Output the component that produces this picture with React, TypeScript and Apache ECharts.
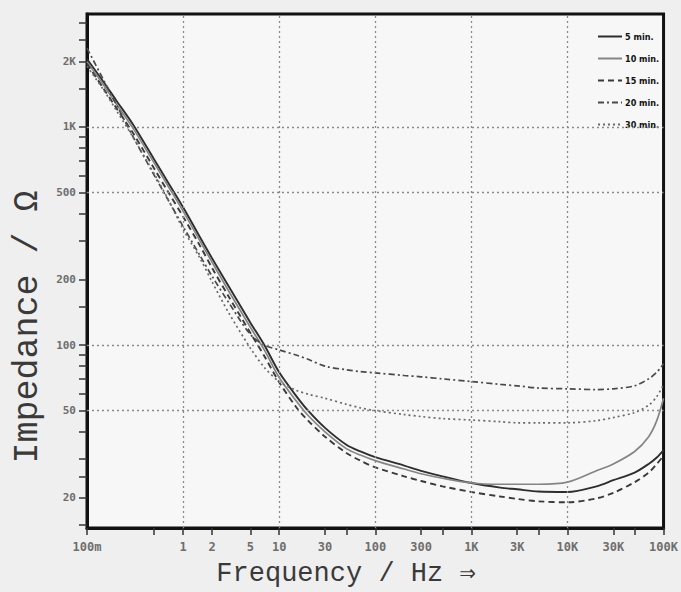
import React, { useEffect, useRef } from "react";
import * as echarts from "echarts";

// Frequencies (Hz) shared by all curves
const freq = [0.1, 0.15, 0.2, 0.3, 0.5, 0.7, 1, 1.5, 2, 3, 5, 7, 10, 15, 20, 30, 50, 70, 100, 200, 300, 500, 1000, 2000, 3000, 5000, 10000, 20000, 30000, 50000, 70000, 85000, 100000];

// Impedance (Ohm) per immersion time
const z5 = [2050, 1600, 1330, 1030, 710, 555, 428, 312, 250, 185, 127, 100, 75, 58.5, 50, 41.7, 34.9, 32.5, 30.6, 28, 26.5, 25, 23.3, 22.2, 21.8, 21.3, 21.2, 22.5, 24, 26, 28.5, 30.5, 33];
const z10 = [1990, 1550, 1285, 990, 684, 535, 411, 300, 240, 176, 121, 95, 71, 55.5, 47.5, 40, 33.5, 31.3, 29.5, 27, 25.7, 24.5, 23.3, 23, 23, 23, 23.5, 26.5, 28.5, 32.5, 38, 45, 57];
const z15 = [1950, 1490, 1230, 940, 645, 503, 388, 285, 226, 166, 114, 89, 67.5, 52, 45, 38, 32, 29.5, 27.5, 25, 23.8, 22.5, 21.2, 20.2, 19.7, 19.2, 19.0, 19.8, 21, 23.5, 26, 28.5, 31];
const z20 = [2300, 1630, 1277, 905, 601, 462, 350, 257, 207, 156, 112, 100, 95, 90, 86, 80, 77, 75.5, 74.5, 72.5, 71.5, 70, 68, 66, 65, 63.5, 63, 62.5, 63, 65, 70, 75, 82];
const z30 = [1900, 1470, 1200, 900, 610, 465, 340, 250, 195, 140, 97, 79, 68, 62, 59.5, 57, 53.5, 51.5, 50, 48, 47, 46, 45.3, 44.5, 44, 44, 44, 45, 46.5, 49, 53, 58, 66];

const seriesNames = ["5 min.", "10 min.", "15 min.", "20 min.", "30 min."];

// Axis ticks and labels
const xTickValues = [0.1, 0.5, 1, 2, 5, 10, 30, 50, 100, 300, 500, 1000, 3000, 5000, 10000, 30000, 50000, 100000];
const xLabelValues = [0.1, 1, 2, 5, 10, 30, 100, 300, 1000, 3000, 10000, 30000, 100000];
const xLabelTexts = ["100m", "1", "2", "5", "10", "30", "100", "300", "1K", "3K", "10K", "30K", "100K"];
const yTickValues = [15, 20, 25, 30, 40, 50, 60, 70, 80, 90, 100, 150, 200, 300, 400, 500, 600, 700, 800, 900, 1000, 1500, 2000, 2500, 3000];
const yLabelValues = [20, 50, 100, 200, 500, 1000, 2000];
const yLabelTexts = ["20", "50", "100", "200", "500", "1K", "2K"];
const xGridValues = [1, 10, 100, 1000, 10000];
const yGridValues = [50, 100, 500, 1000];

const L = (v: number) => Math.log10(v);

function labelFor(v: number, vals: number[], texts: string[]) {
  for (let i = 0; i < vals.length; i++) {
    if (Math.abs(L(vals[i]) - v) < 1e-6) return texts[i];
  }
  return "";
}

export default function App() {
  const ref = useRef<HTMLDivElement>(null);
  useEffect(() => {
    if (!ref.current) return;
    const chart = echarts.init(ref.current, undefined, { renderer: "svg" });
    const toData = (z: number[]) => freq.map((f, i) => [L(f), L(z[i])]);
    const gridStyle = { color: "#8a8a8a", width: 1.3, type: [2, 3] as any };
    const styles = [
      { color: "#2e2e2e", width: 1.9, type: "solid" as any },
      { color: "#858585", width: 1.7, type: "solid" as any },
      { color: "#3a3a3a", width: 1.9, type: [6, 4] as any },
      { color: "#4a4a4a", width: 1.7, type: [6, 3, 2, 3] as any },
      { color: "#6a6a6a", width: 1.7, type: [2, 3] as any },
    ];
    const zs = [z5, z10, z15, z20, z30];
    const monoLabel = {
      fontFamily: "DejaVu Sans Mono, monospace",
      fontWeight: "bold" as any,
      color: "#6e6e6e",
    };
    chart.setOption({
      animation: false,
      backgroundColor: "#efefef",
      grid: {
        left: 87,
        right: 11,
        top: 14,
        bottom: 64,
        show: true,
        backgroundColor: "#f7f7f7",
        borderColor: "#111",
        borderWidth: 3,
      },
      legend: {
        data: seriesNames,
        orient: "vertical",
        left: 592,
        top: 27,
        itemWidth: 24,
        itemHeight: 10,
        itemGap: 13,
        itemStyle: { opacity: 0 },
        textStyle: {
          fontFamily: "DejaVu Sans Condensed, Liberation Sans Narrow, sans-serif",
          fontWeight: "bold",
          fontSize: 9,
          color: "#111",
          padding: [0, 0, 0, -2],
        },
      },
      xAxis: {
        type: "value",
        min: -1,
        max: 5,
        axisLine: { show: true, onZero: false, lineStyle: { color: "#111", width: 3 } },
        axisTick: {
          show: true,
          length: 7,
          customValues: xTickValues.map(L),
          lineStyle: { color: "#333", width: 1.5 },
        },
        axisLabel: {
          ...monoLabel,
          fontSize: 12,
          margin: 13,
          customValues: xLabelValues.map(L),
          formatter: (v: number) => labelFor(v, xLabelValues, xLabelTexts),
        },
        splitLine: { show: false },
      },
      yAxis: {
        type: "value",
        min: 1.161,
        max: 3.518,
        axisLine: { show: true, onZero: false, lineStyle: { color: "#111", width: 3 } },
        axisTick: {
          show: true,
          length: 8,
          customValues: yTickValues.map(L),
          lineStyle: { color: "#333", width: 1.5 },
        },
        axisLabel: {
          ...monoLabel,
          fontSize: 11,
          margin: 11,
          customValues: yLabelValues.map(L),
          formatter: (v: number) => labelFor(v, yLabelValues, yLabelTexts),
        },
        splitLine: { show: false },
      },
      series: [
        {
          type: "line",
          name: "grid",
          data: [],
          silent: true,
          markLine: {
            silent: true,
            symbol: "none",
            label: { show: false },
            lineStyle: gridStyle,
            data: [
              ...xGridValues.map((v) => ({ xAxis: L(v) })),
              ...yGridValues.map((v) => ({ yAxis: L(v) })),
            ],
          },
        },
        ...seriesNames.map((name, i) => ({
          type: "line",
          name,
          data: toData(zs[i]),
          showSymbol: false,
          symbol: "none",
          smooth: 0.3,
          lineStyle: styles[i],
          itemStyle: { color: styles[i].color },
          z: 3,
        })),
      ],
      graphic: [
        {
          type: "text",
          x: 28,
          y: 327,
          rotation: Math.PI / 2,
          style: {
            text: "Impedance / Ω",
            fontFamily: "Liberation Mono, DejaVu Sans Mono, monospace",
            fontSize: 35,
            fill: "#3a3a3a",
            align: "center",
            verticalAlign: "middle",
          },
        },
        {
          type: "text",
          x: 346,
          y: 574,
          style: {
            text: "Frequency / Hz ⇒",
            fontFamily: "Liberation Mono, DejaVu Sans Mono, monospace",
            fontSize: 27,
            fill: "#3a3a3a",
            align: "center",
            verticalAlign: "middle",
          },
        },
      ],
    });
    return () => chart.dispose();
  }, []);
  return (
    <div
      ref={ref}
      style={{ position: "fixed", left: 0, top: 0, width: 681, height: 592 }}
    />
  );
}
